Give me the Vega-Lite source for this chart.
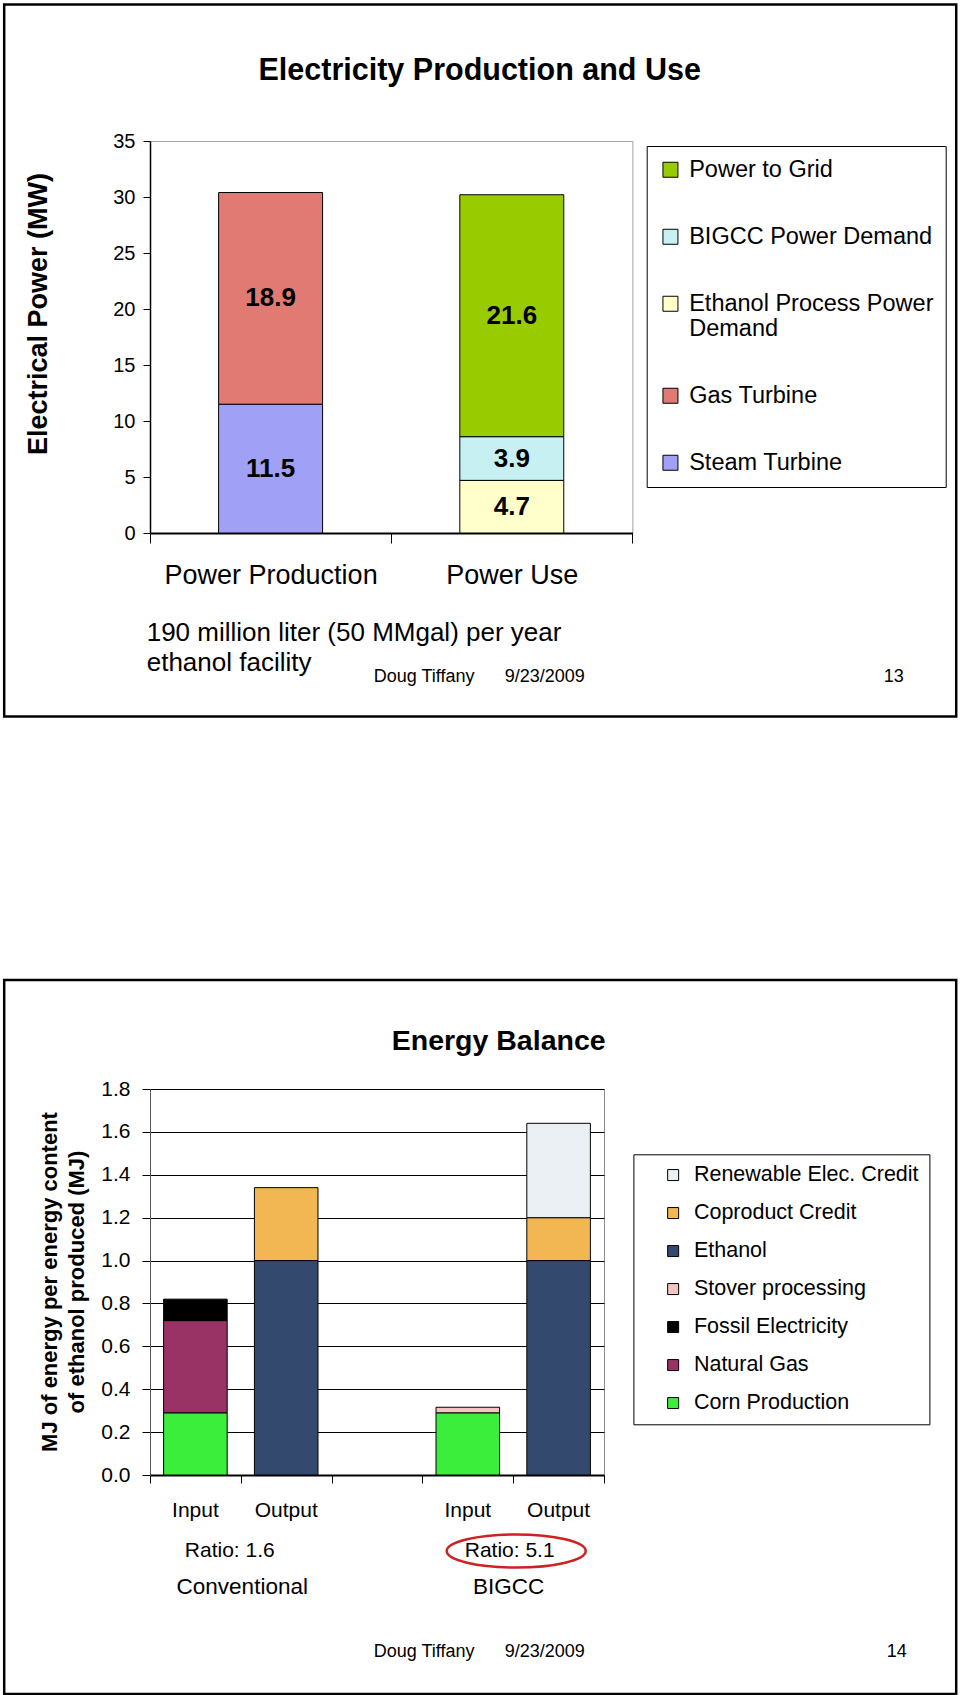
{
  "$schema": "https://vega.github.io/schema/vega-lite/v6.json",
  "background": "white",
  "padding": {"left": 2, "top": 2, "right": 0, "bottom": 0},
  "config": {
    "font": "Liberation Sans",
    "axis": {"labelColor": "black", "titleColor": "black", "domainColor": "black", "tickColor": "black", "labelFont": "Liberation Sans", "titleFont": "Liberation Sans"},
    "legend": {"labelColor": "black", "labelFont": "Liberation Sans"}
  },
  "datasets": {
    "power": [
      {"use": "Power Production", "series": "Steam Turbine", "mw": 11.5},
      {"use": "Power Production", "series": "Gas Turbine", "mw": 18.9},
      {"use": "Power Use", "series": "Ethanol Process Power Demand", "mw": 4.7},
      {"use": "Power Use", "series": "BIGCC Power Demand", "mw": 3.9},
      {"use": "Power Use", "series": "Power to Grid", "mw": 21.6}
    ],
    "energy": [
      {"bar": "Conventional Input", "component": "Corn Production", "mj": 0.29},
      {"bar": "Conventional Input", "component": "Natural Gas", "mj": 0.43},
      {"bar": "Conventional Input", "component": "Fossil Electricity", "mj": 0.1},
      {"bar": "Conventional Output", "component": "Ethanol", "mj": 1.0},
      {"bar": "Conventional Output", "component": "Coproduct Credit", "mj": 0.34},
      {"bar": "BIGCC Input", "component": "Corn Production", "mj": 0.29},
      {"bar": "BIGCC Input", "component": "Stover processing", "mj": 0.026},
      {"bar": "BIGCC Output", "component": "Ethanol", "mj": 1.0},
      {"bar": "BIGCC Output", "component": "Coproduct Credit", "mj": 0.2},
      {"bar": "BIGCC Output", "component": "Renewable Elec. Credit", "mj": 0.44}
    ]
  },
  "spacing": 259,
  "vconcat": [
    {
      "width": 482.4,
      "height": 392,
      "view": {"stroke": "#a0a0a0", "strokeWidth": 1},
      "resolve": {"scale": {"x": "independent", "y": "independent"}},
      "layer": [
        {
          "data": {"values": [{}]},
          "mark": {"type": "rect", "filled": false, "stroke": "black", "strokeWidth": 2.5, "clip": false},
          "encoding": {
            "x": {"datum": -0.6045, "type": "quantitative", "scale": {"domain": [0, 2], "nice": false, "zero": false}, "axis": null},
            "x2": {"datum": 3.3425},
            "y": {"datum": -16.384, "type": "quantitative", "scale": {"domain": [0, 35], "nice": false}, "axis": null},
            "y2": {"datum": 47.1875}
          }
        },
        {
          "data": {"values": [{}]},
          "mark": {"type": "text", "text": "Electricity Production and Use", "fontSize": 30.5, "fontWeight": "bold", "align": "center", "baseline": "alphabetic", "color": "black", "clip": false},
          "encoding": {
            "x": {"datum": 1.3669, "type": "quantitative", "scale": {"domain": [0, 2], "nice": false, "zero": false}, "axis": null},
            "y": {"datum": 40.45, "type": "quantitative", "scale": {"domain": [0, 35], "nice": false}, "axis": null}
          }
        },
        {
          "data": {"values": [{}]},
          "mark": {"type": "text", "text": "Electrical Power (MW)", "angle": 270, "fontSize": 27, "fontWeight": "bold", "align": "center", "baseline": "middle", "color": "black", "clip": false},
          "encoding": {
            "x": {"datum": -0.4614, "type": "quantitative", "scale": {"domain": [0, 2], "nice": false, "zero": false}, "axis": null},
            "y": {"datum": 19.55, "type": "quantitative", "scale": {"domain": [0, 35], "nice": false}, "axis": null}
          }
        },
        {
          "data": {"values": [{}]},
          "mark": {"type": "text", "text": ["190 million liter (50 MMgal) per year", "ethanol facility"], "fontSize": 26, "lineHeight": 30, "align": "left", "baseline": "alphabetic", "color": "black", "clip": false},
          "encoding": {
            "x": {"datum": -0.01368, "type": "quantitative", "scale": {"domain": [0, 2], "nice": false, "zero": false}, "axis": null},
            "y": {"datum": -9.643, "type": "quantitative", "scale": {"domain": [0, 35], "nice": false}, "axis": null}
          }
        },
        {
          "data": {"values": [{}]},
          "mark": {"type": "text", "text": "Doug Tiffany", "fontSize": 18, "align": "left", "baseline": "alphabetic", "color": "black", "clip": false},
          "encoding": {
            "x": {"datum": 0.9274, "type": "quantitative", "scale": {"domain": [0, 2], "nice": false, "zero": false}, "axis": null},
            "y": {"datum": -13.3, "type": "quantitative", "scale": {"domain": [0, 35], "nice": false}, "axis": null}
          }
        },
        {
          "data": {"values": [{}]},
          "mark": {"type": "text", "text": "9/23/2009", "fontSize": 18, "align": "left", "baseline": "alphabetic", "color": "black", "clip": false},
          "encoding": {
            "x": {"datum": 1.4706, "type": "quantitative", "scale": {"domain": [0, 2], "nice": false, "zero": false}, "axis": null},
            "y": {"datum": -13.3, "type": "quantitative", "scale": {"domain": [0, 35], "nice": false}, "axis": null}
          }
        },
        {
          "data": {"values": [{}]},
          "mark": {"type": "text", "text": "13", "fontSize": 18, "align": "center", "baseline": "alphabetic", "color": "black", "clip": false},
          "encoding": {
            "x": {"datum": 3.0833, "type": "quantitative", "scale": {"domain": [0, 2], "nice": false, "zero": false}, "axis": null},
            "y": {"datum": -13.3, "type": "quantitative", "scale": {"domain": [0, 35], "nice": false}, "axis": null}
          }
        },
        {
          "data": {"name": "power"},
          "transform": [
            {"window": [{"op": "row_number", "as": "row"}]},
            {"stack": "mw", "groupby": ["use"], "sort": [{"field": "row", "order": "ascending"}], "as": ["mw0", "mw1"]}
          ],
          "layer": [
            {
              "mark": {"type": "bar", "stroke": "black", "strokeWidth": 1, "width": {"band": 0.431}},
              "encoding": {
                "x": {
                  "field": "use", "type": "nominal",
                  "scale": {"domain": ["Power Production", "Power Use"], "paddingInner": 0, "paddingOuter": 0},
                  "axis": {"title": null, "labelAngle": 0, "labelFontSize": 27, "labelPadding": 19, "labelLimit": 400, "tickSize": 10, "tickBand": "extent", "domainWidth": 2, "tickWidth": 1}
                },
                "y": {
                  "field": "mw0", "type": "quantitative",
                  "scale": {"domain": [0, 35], "nice": false},
                  "axis": {"title": null, "tickCount": 7, "labelFontSize": 20, "labelPadding": 8, "tickSize": 7, "tickWidth": 1, "domainWidth": 1.5, "grid": false}
                },
                "y2": {"field": "mw1"},
                "color": {
                  "field": "series", "type": "nominal",
                  "scale": {
                    "domain": ["Power to Grid", "BIGCC Power Demand", "Ethanol Process Power Demand", "Gas Turbine", "Steam Turbine"],
                    "range": ["#99cc00", "#c6f0f2", "#ffffcc", "#e07a72", "#a0a0f6"]
                  },
                  "legend": {
                    "title": null, "orient": "none", "legendX": 496.7, "legendY": 5, "direction": "vertical",
                    "strokeColor": "black", "fillColor": "white", "padding": 12,
                    "symbolType": "square", "symbolSize": 225, "symbolStrokeColor": "black", "symbolStrokeWidth": 1,
                    "labelFontSize": 23.5, "labelOffset": 7, "rowPadding": 42, "labelLimit": 400, "labelBaseline": "middle",
                    "labelExpr": "datum.label == 'Ethanol Process Power Demand' ? ['Ethanol Process Power', 'Demand'] : datum.label"
                  }
                }
              }
            },
            {
              "transform": [{"fold": ["mw0", "mw1"], "as": ["edge", "edgeValue"]}],
              "mark": {"type": "text", "fontSize": 26, "fontWeight": "bold", "baseline": "middle", "align": "center", "color": "black"},
              "encoding": {
                "x": {"field": "use", "type": "nominal"},
                "y": {"field": "edgeValue", "type": "quantitative", "aggregate": "mean"},
                "detail": {"field": "series", "type": "nominal"},
                "text": {"field": "mw", "type": "quantitative", "format": ".1f"}
              }
            }
          ]
        }
      ]
    },
    {
      "width": 454,
      "height": 386,
      "view": {"stroke": "#8c8c8c", "strokeWidth": 1},
      "resolve": {"scale": {"x": "independent", "y": "independent"}},
      "layer": [
        {
          "data": {"values": [{}]},
          "mark": {"type": "rect", "filled": false, "stroke": "black", "strokeWidth": 2.5, "clip": false},
          "encoding": {
            "x": {"datum": -1.6057, "type": "quantitative", "scale": {"domain": [0, 5], "nice": false, "zero": false}, "axis": null},
            "x2": {"datum": 8.8789},
            "y": {"datum": -1.0213, "type": "quantitative", "scale": {"domain": [0, 1.8], "nice": false}, "axis": null},
            "y2": {"datum": 2.3083}
          }
        },
        {
          "data": {"values": [{}]},
          "mark": {"type": "text", "text": "Energy Balance", "fontSize": 28.5, "fontWeight": "bold", "align": "center", "baseline": "alphabetic", "color": "black", "clip": false},
          "encoding": {
            "x": {"datum": 3.84, "type": "quantitative", "scale": {"domain": [0, 5], "nice": false, "zero": false}, "axis": null},
            "y": {"datum": 1.9796, "type": "quantitative", "scale": {"domain": [0, 1.8], "nice": false}, "axis": null}
          }
        },
        {
          "data": {"values": [{}]},
          "mark": {"type": "text", "text": "MJ of energy per energy content", "angle": 270, "fontSize": 22, "fontWeight": "bold", "align": "center", "baseline": "middle", "color": "black", "clip": false},
          "encoding": {
            "x": {"datum": -1.1046, "type": "quantitative", "scale": {"domain": [0, 5], "nice": false, "zero": false}, "axis": null},
            "y": {"datum": 0.9, "type": "quantitative", "scale": {"domain": [0, 1.8], "nice": false}, "axis": null}
          }
        },
        {
          "data": {"values": [{}]},
          "mark": {"type": "text", "text": "of ethanol produced (MJ)", "angle": 270, "fontSize": 22, "fontWeight": "bold", "align": "center", "baseline": "middle", "color": "black", "clip": false},
          "encoding": {
            "x": {"datum": -0.8073, "type": "quantitative", "scale": {"domain": [0, 5], "nice": false, "zero": false}, "axis": null},
            "y": {"datum": 0.9, "type": "quantitative", "scale": {"domain": [0, 1.8], "nice": false}, "axis": null}
          }
        },
        {
          "data": {"values": [{}]},
          "mark": {"type": "text", "text": "Input", "fontSize": 21, "align": "center", "baseline": "alphabetic", "color": "black", "clip": false},
          "encoding": {
            "x": {"datum": 0.5, "type": "quantitative", "scale": {"domain": [0, 5], "nice": false, "zero": false}, "axis": null},
            "y": {"datum": -0.1959, "type": "quantitative", "scale": {"domain": [0, 1.8], "nice": false}, "axis": null}
          }
        },
        {
          "data": {"values": [{}]},
          "mark": {"type": "text", "text": "Output", "fontSize": 21, "align": "center", "baseline": "alphabetic", "color": "black", "clip": false},
          "encoding": {
            "x": {"datum": 1.5, "type": "quantitative", "scale": {"domain": [0, 5], "nice": false, "zero": false}, "axis": null},
            "y": {"datum": -0.1959, "type": "quantitative", "scale": {"domain": [0, 1.8], "nice": false}, "axis": null}
          }
        },
        {
          "data": {"values": [{}]},
          "mark": {"type": "text", "text": "Input", "fontSize": 21, "align": "center", "baseline": "alphabetic", "color": "black", "clip": false},
          "encoding": {
            "x": {"datum": 3.5, "type": "quantitative", "scale": {"domain": [0, 5], "nice": false, "zero": false}, "axis": null},
            "y": {"datum": -0.1959, "type": "quantitative", "scale": {"domain": [0, 1.8], "nice": false}, "axis": null}
          }
        },
        {
          "data": {"values": [{}]},
          "mark": {"type": "text", "text": "Output", "fontSize": 21, "align": "center", "baseline": "alphabetic", "color": "black", "clip": false},
          "encoding": {
            "x": {"datum": 4.5, "type": "quantitative", "scale": {"domain": [0, 5], "nice": false, "zero": false}, "axis": null},
            "y": {"datum": -0.1959, "type": "quantitative", "scale": {"domain": [0, 1.8], "nice": false}, "axis": null}
          }
        },
        {
          "data": {"values": [{}]},
          "mark": {"type": "text", "text": "Ratio: 1.6", "fontSize": 21, "align": "center", "baseline": "alphabetic", "color": "black", "clip": false},
          "encoding": {
            "x": {"datum": 0.878, "type": "quantitative", "scale": {"domain": [0, 5], "nice": false, "zero": false}, "axis": null},
            "y": {"datum": -0.3824, "type": "quantitative", "scale": {"domain": [0, 1.8], "nice": false}, "axis": null}
          }
        },
        {
          "data": {"values": [{}]},
          "mark": {"type": "text", "text": "Ratio: 5.1", "fontSize": 21, "align": "center", "baseline": "alphabetic", "color": "black", "clip": false},
          "encoding": {
            "x": {"datum": 3.961, "type": "quantitative", "scale": {"domain": [0, 5], "nice": false, "zero": false}, "axis": null},
            "y": {"datum": -0.3824, "type": "quantitative", "scale": {"domain": [0, 1.8], "nice": false}, "axis": null}
          }
        },
        {
          "data": {"values": [{}]},
          "mark": {"type": "text", "text": "Conventional", "fontSize": 22.5, "align": "center", "baseline": "alphabetic", "color": "black", "clip": false},
          "encoding": {
            "x": {"datum": 1.016, "type": "quantitative", "scale": {"domain": [0, 5], "nice": false, "zero": false}, "axis": null},
            "y": {"datum": -0.555, "type": "quantitative", "scale": {"domain": [0, 1.8], "nice": false}, "axis": null}
          }
        },
        {
          "data": {"values": [{}]},
          "mark": {"type": "text", "text": "BIGCC", "fontSize": 22.5, "align": "center", "baseline": "alphabetic", "color": "black", "clip": false},
          "encoding": {
            "x": {"datum": 3.95, "type": "quantitative", "scale": {"domain": [0, 5], "nice": false, "zero": false}, "axis": null},
            "y": {"datum": -0.555, "type": "quantitative", "scale": {"domain": [0, 1.8], "nice": false}, "axis": null}
          }
        },
        {
          "data": {"values": [{}]},
          "mark": {"type": "point", "filled": false, "stroke": "#cc2222", "strokeWidth": 2.5, "opacity": 1, "clip": false, "size": 19321,
            "shape": "M-1,0C-1,-0.1311,-0.5523,-0.2374,0,-0.2374C0.5523,-0.2374,1,-0.1311,1,0C1,0.1311,0.5523,0.2374,0,0.2374C-0.5523,0.2374,-1,0.1311,-1,0Z"},
          "encoding": {
            "x": {"datum": 4.033, "type": "quantitative", "scale": {"domain": [0, 5], "nice": false, "zero": false}, "axis": null},
            "y": {"datum": -0.3544, "type": "quantitative", "scale": {"domain": [0, 1.8], "nice": false}, "axis": null}
          }
        },
        {
          "data": {"values": [{}]},
          "mark": {"type": "text", "text": "Doug Tiffany", "fontSize": 18, "align": "left", "baseline": "alphabetic", "color": "black", "clip": false},
          "encoding": {
            "x": {"datum": 2.4637, "type": "quantitative", "scale": {"domain": [0, 5], "nice": false, "zero": false}, "axis": null},
            "y": {"datum": -0.8487, "type": "quantitative", "scale": {"domain": [0, 1.8], "nice": false}, "axis": null}
          }
        },
        {
          "data": {"values": [{}]},
          "mark": {"type": "text", "text": "9/23/2009", "fontSize": 18, "align": "left", "baseline": "alphabetic", "color": "black", "clip": false},
          "encoding": {
            "x": {"datum": 3.9064, "type": "quantitative", "scale": {"domain": [0, 5], "nice": false, "zero": false}, "axis": null},
            "y": {"datum": -0.8487, "type": "quantitative", "scale": {"domain": [0, 1.8], "nice": false}, "axis": null}
          }
        },
        {
          "data": {"values": [{}]},
          "mark": {"type": "text", "text": "14", "fontSize": 18, "align": "center", "baseline": "alphabetic", "color": "black", "clip": false},
          "encoding": {
            "x": {"datum": 8.2236, "type": "quantitative", "scale": {"domain": [0, 5], "nice": false, "zero": false}, "axis": null},
            "y": {"datum": -0.8487, "type": "quantitative", "scale": {"domain": [0, 1.8], "nice": false}, "axis": null}
          }
        },
        {
          "data": {"name": "energy"},
          "transform": [
            {"window": [{"op": "row_number", "as": "row"}]},
            {"stack": "mj", "groupby": ["bar"], "sort": [{"field": "row", "order": "ascending"}], "as": ["mj0", "mj1"]}
          ],
          "mark": {"type": "bar", "stroke": "black", "strokeWidth": 1, "width": {"band": 0.7}},
          "encoding": {
            "x": {
              "field": "bar", "type": "nominal",
              "scale": {"domain": ["Conventional Input", "Conventional Output", " ", "BIGCC Input", "BIGCC Output"], "paddingInner": 0, "paddingOuter": 0},
              "axis": {"title": null, "labels": false, "tickSize": 8, "tickBand": "extent", "domainWidth": 2, "tickWidth": 1}
            },
            "y": {
              "field": "mj0", "type": "quantitative",
              "scale": {"domain": [0, 1.8], "nice": false},
              "axis": {"title": null, "tickCount": 9, "labelFontSize": 21, "labelPadding": 12, "tickSize": 8, "tickWidth": 1, "grid": true, "gridColor": "black", "gridWidth": 1, "domainColor": "#555555", "domainWidth": 1}
            },
            "y2": {"field": "mj1"},
            "fill": {
              "field": "component", "type": "nominal",
              "scale": {
                "domain": ["Renewable Elec. Credit", "Coproduct Credit", "Ethanol", "Stover processing", "Fossil Electricity", "Natural Gas", "Corn Production"],
                "range": ["#eaf0f4", "#f2b652", "#34496e", "#f2c4c4", "#000000", "#993366", "#3cee3c"]
              },
              "legend": {
                "title": null, "orient": "none", "legendX": 483.4, "legendY": 1013.3, "direction": "vertical",
                "strokeColor": "black", "fillColor": "white", "padding": 10, "symbolOffset": 19,
                "symbolType": "square", "symbolSize": 121, "symbolStrokeColor": "black", "symbolStrokeWidth": 1,
                "labelFontSize": 21.5, "labelOffset": 10, "rowPadding": 15, "labelLimit": 400, "labelBaseline": "middle"
              }
            }
          }
        }
      ]
    }
  ]
}
